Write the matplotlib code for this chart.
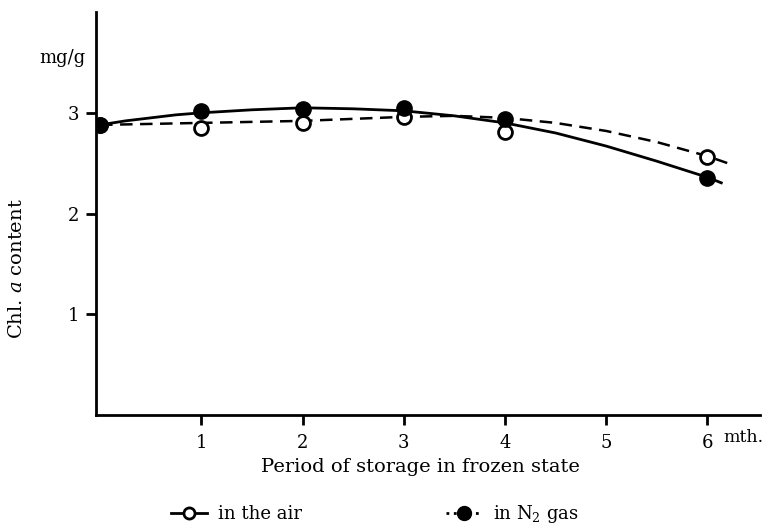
import matplotlib
matplotlib.use("Agg")
import matplotlib.pyplot as plt
from matplotlib.lines import Line2D

plt.rcParams['font.family'] = ['DejaVu Serif']
plt.rcParams['mathtext.fontset'] = 'dejavuserif'

# measured points
months = [0, 1, 2, 3, 4, 6]
air_values = [2.88, 2.85, 2.90, 2.96, 2.81, 2.56]      # open circles
n2_values = [2.88, 3.02, 3.04, 3.05, 2.94, 2.35]       # filled circles

# curves
solid_x = [0, 0.25, 0.5, 0.75, 1, 1.5, 2, 2.5, 3, 3.5, 4, 4.5, 5, 5.5, 6, 6.15]
solid_y = [2.88, 2.92, 2.95, 2.98, 3.00, 3.03, 3.05, 3.04, 3.02, 2.97, 2.90, 2.80, 2.67, 2.52, 2.36, 2.30]
dashed_x = [0, 0.5, 1, 1.5, 2, 2.5, 3, 3.5, 4, 4.5, 5, 5.5, 6, 6.2]
dashed_y = [2.88, 2.89, 2.90, 2.91, 2.92, 2.94, 2.96, 2.97, 2.95, 2.90, 2.82, 2.71, 2.57, 2.50]

x_ticks = [1, 2, 3, 4, 5, 6]
y_ticks = [1, 2, 3]

fig = plt.figure(figsize=(7.65, 5.26), dpi=100)
ax = fig.add_axes([0.1255, 0.211, 0.868, 0.766])

ax.plot(solid_x, solid_y, color='black', lw=2.0, solid_capstyle='butt',
        solid_joinstyle='round')
ax.plot(dashed_x, dashed_y, color='black', lw=1.8, linestyle=(0, (5, 3)))
ax.plot(months, air_values, linestyle='none', marker='o', ms=10,
        mfc='white', mec='black', mew=2.0, zorder=3)
ax.plot(months, n2_values, linestyle='none', marker='o', ms=11,
        mfc='black', mec='black', zorder=4)

ax.set_xlim(-0.04, 6.52)
ax.set_ylim(0, 4.0)
ax.set_xticks(x_ticks)
ax.set_yticks(y_ticks)
ax.tick_params(axis='both', direction='out', length=7, width=2, labelsize=13, pad=5)
ax.tick_params(axis='x', pad=7)
for s in ['top', 'right']:
    ax.spines[s].set_visible(False)
for s in ['left', 'bottom']:
    ax.spines[s].set_linewidth(2)

fig.text(0.081, 0.89, 'mg/g', ha='center', va='center', fontsize=13)
fig.text(0.022, 0.49, r'Chl. $\mathit{a}$ content', rotation=90,
         ha='center', va='center', fontsize=14)
fig.text(0.998, 0.168, 'mth.', ha='right', va='center', fontsize=12.5)
fig.text(0.549, 0.112, 'Period of storage in frozen state', ha='center',
         va='center', fontsize=14)

h_air = Line2D([], [], color='black', lw=2, marker='o', ms=8, mfc='white',
               mec='black', mew=2)
h_n2 = Line2D([], [], color='black', lw=2, linestyle=':', marker='o', ms=10,
              mfc='black', mec='black')
fig.legend([h_air, h_n2], ['in the air', r'in N$_2$ gas'], loc='center',
           bbox_to_anchor=(0.49, 0.022), ncol=2, frameon=False, fontsize=13,
           handlelength=2.0, columnspacing=8.0, handletextpad=0.6)

fig.savefig('out.png', dpi=100)
